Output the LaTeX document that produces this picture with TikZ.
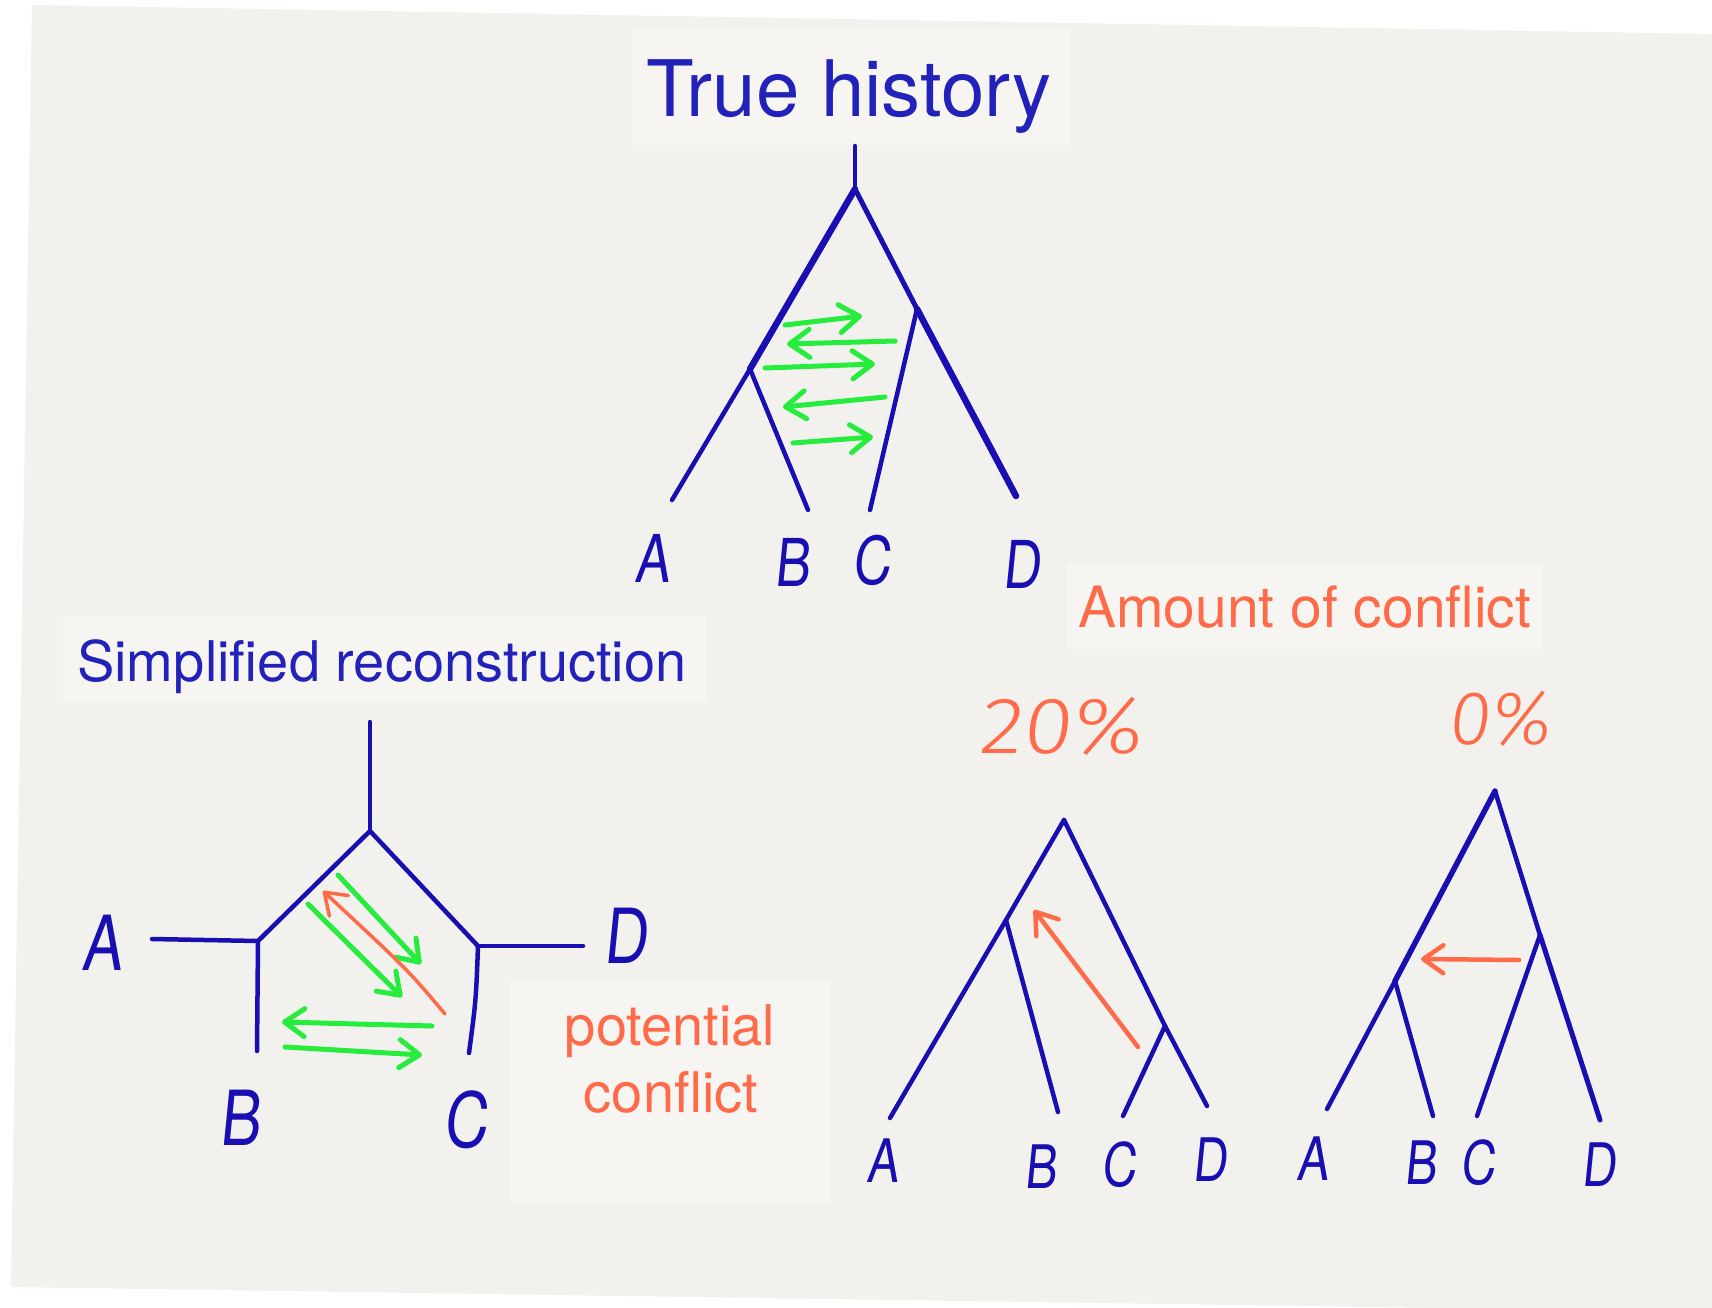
\documentclass[tikz,border=0pt]{standalone}
\usepackage{fontspec}
\setmainfont{TeX Gyre Heros}
\newfontfamily\handfont{TeX Gyre Heros}[FakeStretch=0.8,FakeSlant=0.1]
\newfontfamily\handpct{Fira Sans Light}[FakeSlant=0.12]
\newfontfamily\handpctwide{Fira Sans Light}[FakeSlant=0.12,FakeStretch=1.12]
\usetikzlibrary{arrows.meta}
\definecolor{paper}{RGB}{242,241,237}
\definecolor{boxc}{RGB}{246,245,242}
\definecolor{ink}{RGB}{24,14,178}
\definecolor{titleblue}{RGB}{34,34,186}
\definecolor{orng}{RGB}{255,106,72}
\definecolor{grn}{RGB}{38,236,62}
\tikzset{
  branch/.style={draw=ink, line width=4.5pt, line cap=round, line join=round},
  heavybranch/.style={branch, line width=6.5pt},
  garrow/.style={draw=grn, line width=5pt, line cap=round,
    -{Straight Barb[length=20pt,width=28pt,line cap=round,line join=round]}},
  oarrow/.style={draw=orng, line width=4.5pt, line cap=round,
    -{Straight Barb[length=20pt,width=28pt,line cap=round,line join=round]}},
  leafA/.style={text=ink, inner sep=0pt, font=\handfont\fontsize{66}{66}\selectfont},
  leafB/.style={text=ink, inner sep=0pt, font=\handfont\fontsize{76}{76}\selectfont},
  leafC/.style={text=ink, inner sep=0pt, font=\handfont\fontsize{60}{60}\selectfont},
  bigtitle/.style={text=titleblue, inner sep=0pt, anchor=base west, font=\fontsize{78}{80}\selectfont},
  midtitle/.style={text=titleblue, inner sep=0pt, anchor=base west, font=\fontsize{56}{58}\selectfont},
  orangetext/.style={text=orng, inner sep=0pt, font=\fontsize{56}{58}\selectfont},
  pct/.style={text=orng, inner sep=0pt, font=\handpct\fontsize{76}{76}\selectfont},
}
\begin{document}
\begin{tikzpicture}[x=1pt,y=-1pt]
\useasboundingbox (0,0) rectangle (1712,1308);
\fill[white] (0,0) rectangle (1712,1308);
\fill[paper] (32,5) -- (1712,34) -- (1712,1312) -- (11,1287) -- cycle;
% text boxes
\fill[boxc] (633,28) rectangle (1070,145);
\fill[boxc] (63,617) rectangle (706,702);
\fill[boxc] (1067,563) rectangle (1542,649);
\fill[boxc] (510,980) rectangle (830,1202);

% titles
\node[bigtitle] (t1) at (646,117) {True history};
\node[midtitle] (t2) at (77,681) {Simplified reconstruction};
\node[orangetext, anchor=base west, font=\fontsize{57}{58}\selectfont] (t3) at (1078,627) {Amount of conflict};
\node[orangetext, anchor=base] (t4a) at (670,1045) {potential};
\node[orangetext, anchor=base] (t4b) at (671,1112) {conflict};
\node[pct, font=\handpctwide\fontsize{80}{80}\selectfont] (p20) at (1060,726) {20\%};
\node[pct] (p0) at (1499,719) {0\%};

% ---------- Tree 1: true history
\coordinate (r1top) at (855,146);
\coordinate (r1) at (855,189);
\coordinate (ab1) at (750,369);
\coordinate (cd1) at (917,309);
\coordinate (a1) at (672,500);
\coordinate (b1) at (808,510);
\coordinate (c1) at (870,510);
\coordinate (d1) at (1016,496);
\draw[branch] (r1top) -- (r1);
\draw[heavybranch] (r1) -- (ab1);
\draw[branch] (ab1) -- (a1);
\draw[branch] (ab1) -- (b1);
\draw[branch, line width=5pt] (r1) -- (cd1);
\draw[heavybranch] (cd1) -- (d1);
\draw[branch] (cd1) -- (c1);
% gene flow arrows
\coordinate (g1s) at (785,325); \coordinate (g1e) at (862,316);
\coordinate (g2s) at (895,341); \coordinate (g2e) at (787,344);
\coordinate (g3s) at (765,368); \coordinate (g3e) at (875,364);
\coordinate (g4s) at (885,397); \coordinate (g4e) at (783,407);
\coordinate (g5s) at (793,443); \coordinate (g5e) at (873,437);
\draw[garrow] (g1s) -- (g1e);
\draw[garrow] (g2s) -- (g2e);
\draw[garrow] (g3s) -- (g3e);
\draw[garrow] (g4s) -- (g4e);
\draw[garrow] (g5s) -- (g5e);
\node[leafA] (la1) at (652,558) {A};
\node[leafA] (lb1) at (792,562) {B};
\node[leafA] (lc1) at (872,560) {C};
\node[leafA] (ld1) at (1022,564) {D};

% ---------- Tree 2: simplified reconstruction
\coordinate (r2top) at (370,722);
\coordinate (r2) at (370,831);
\coordinate (n2l) at (258,941);
\coordinate (n2r) at (478,946);
\coordinate (a2) at (152,939);
\coordinate (d2) at (583,946);
\coordinate (b2) at (257,1051);
\coordinate (c2) at (469,1053);
\draw[branch] (r2top) -- (r2);
\draw[branch] (r2) -- (n2l);
\draw[branch] (r2) -- (n2r);
\draw[branch] (a2) -- (n2l);
\draw[branch] (n2r) -- (d2);
\draw[branch] (n2l) -- (b2);
\draw[branch] (n2r) .. controls (476,1000) .. (c2);
\coordinate (h1s) at (338,875); \coordinate (h1e) at (421,964);
\coordinate (h2s) at (308,904); \coordinate (h2e) at (402,997);
\coordinate (o2s) at (445,1014); \coordinate (o2e) at (323,891);
\coordinate (h3s) at (432,1026); \coordinate (h3e) at (282,1022);
\coordinate (h4s) at (285,1047); \coordinate (h4e) at (422,1055);
\draw[garrow] (h1s) -- (h1e);
\draw[garrow] (h2s) -- (h2e);
\draw[oarrow, line width=3.5pt] (o2s) .. controls (408,970) .. (o2e);
\draw[garrow] (h3s) -- (h3e);
\draw[garrow] (h4s) -- (h4e);
\node[leafB] (la2) at (102,943) {A};
\node[leafB] (ld2) at (625,936) {D};
\node[leafB] (lb2) at (240,1118) {B};
\node[leafB] (lc2) at (465,1120) {C};

% ---------- Tree 3: 20%
\coordinate (r3) at (1064,820);
\coordinate (ab3) at (1006,920);
\coordinate (cd3) at (1165,1026);
\coordinate (a3) at (890,1118);
\coordinate (b3) at (1058,1112);
\coordinate (c3) at (1123,1116);
\coordinate (d3) at (1207,1106);
\draw[branch] (r3) -- (ab3) -- (a3);
\draw[branch] (ab3) -- (b3);
\draw[branch] (r3) -- (cd3) -- (d3);
\draw[branch] (cd3) -- (c3);
\coordinate (o3s) at (1138,1047); \coordinate (o3e) at (1034,910);
\draw[oarrow] (o3s) -- (o3e);
\node[leafC] (la3) at (882,1161) {A};
\node[leafC] (lb3) at (1040,1167) {B};
\node[leafC] (lc3) at (1119,1165) {C};
\node[leafC] (ld3) at (1210,1160) {D};

% ---------- Tree 4: 0%
\coordinate (r4) at (1495,791);
\coordinate (ab4) at (1395,981);
\coordinate (cd4) at (1540,935);
\coordinate (a4) at (1327,1109);
\coordinate (b4) at (1433,1116);
\coordinate (c4) at (1477,1116);
\coordinate (d4) at (1600,1120);
\draw[branch, line width=5.5pt] (r4) -- (ab4);
\draw[branch] (ab4) -- (a4);
\draw[branch] (ab4) -- (b4);
\draw[branch] (r4) -- (cd4);
\draw[branch, line width=5pt] (cd4) -- (d4);
\draw[branch] (cd4) -- (c4);
\coordinate (o4s) at (1519,960); \coordinate (o4e) at (1421,959);
\draw[oarrow] (o4s) -- (o4e);
\node[leafC] (la4) at (1312,1159) {A};
\node[leafC] (lb4) at (1420,1163) {B};
\node[leafC] (lc4) at (1478,1163) {C};
\node[leafC] (ld4) at (1599,1165) {D};
\end{tikzpicture}
\end{document}
